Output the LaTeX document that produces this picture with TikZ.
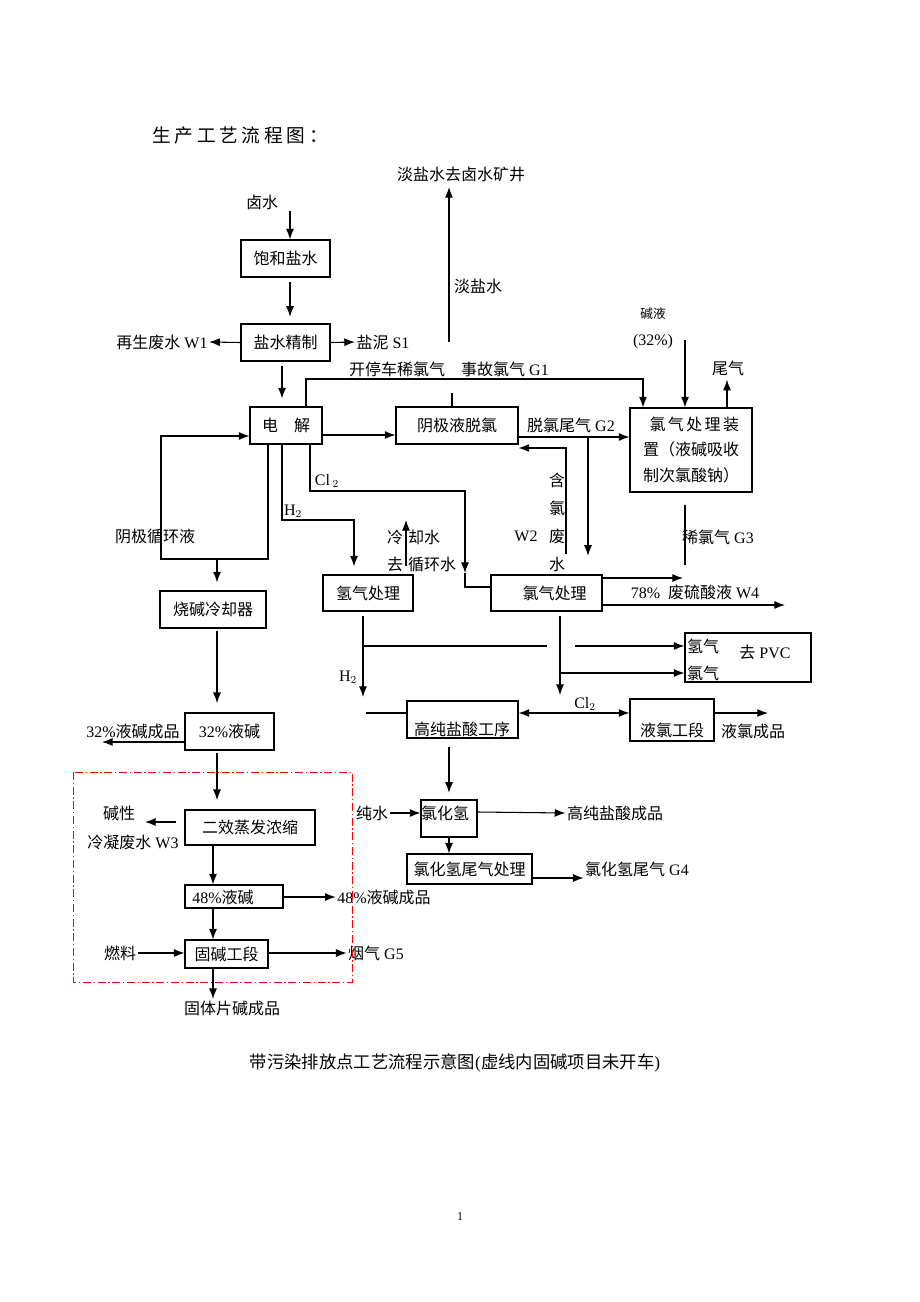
\documentclass[tikz,border=0pt]{standalone}
\usepackage{fontspec}
\setmainfont{Liberation Serif}
\newfontfamily\cjkfont{Noto Sans CJK SC}
\newfontfamily\cjkwide[LetterSpace=20]{Noto Sans CJK SC}
\newcommand{\zh}[1]{{\cjkfont #1}}
\usepackage{tikz}
\usetikzlibrary{positioning,calc,arrows.meta}

\tikzset{
  box/.style 2 args={draw, line width=0.8pt, inner sep=0pt,
    minimum width=#1*0.75pt, minimum height=#2*0.75pt},
  lbl/.style={inner sep=1pt},
  arr/.style={line width=0.8pt, -{Latex[length=8pt,width=6pt]}},
  ln/.style={line width=0.8pt},
  small/.style={font=\fontsize{9.5}{11}\selectfont},
}

\begin{document}
\begin{tikzpicture}[x=0.75pt,y=-0.75pt,font=\fontsize{12}{14}\selectfont]
\useasboundingbox (0,0) rectangle (920,1302);

\node[lbl] (title) at (240,135) {\fontsize{14}{16}\selectfont\cjkwide 生产工艺流程图：};

% brine and caustic column
\node[lbl] (lushui) at (262,202) {\zh{卤水}};
\node[box={89}{37}] (bhys) at (285.5,258.5) {\zh{饱和盐水}};
\node[box={89}{37}] (yszz) at (285.5,342.5) {\zh{盐水精制}};
\node[lbl] (w1) at (162,342) {\zh{再生废水} W1};
\node[lbl] (s1) at (383,342) {\zh{盐泥} S1};
\node[box={72}{37}] (dj) at (286,425.5) {\zh{电\quad 解}};
\node[lbl] (yjxhy) at (155,536) {\zh{阴极循环液}};
\node[box={106}{37}] (sjlq) at (213,609.5) {\zh{烧碱冷却器}};
\node[box={89}{37}] (yj32) at (229.5,731.5) {32\%\zh{液碱}};
\node[lbl] (yj32cp) at (133,731) {32\%\zh{液碱成品}};
\node[box={130}{35}] (exzf) at (250,827.5) {\zh{二效蒸发浓缩}};
\node[lbl] (jx) at (119,813) {\zh{碱性}};
\node[lbl] (w3) at (133,842) {\zh{冷凝废水} W3};
\node[box={98}{23}] (yj48) at (234,896.5) {};
\node[lbl] (yj48t) at (223,897) {48\%\zh{液碱}};
\node[lbl] (yj48cp) at (384,897) {48\%\zh{液碱成品}};
\node[box={83}{28}] (gjgd) at (226.5,954) {\zh{固碱工段}};
\node[lbl] (rl) at (120,953) {\zh{燃料}};
\node[lbl] (g5) at (376,953) {\zh{烟气} G5};
\node[lbl] (gtpj) at (232,1008) {\zh{固体片碱成品}};

% chlorine side
\node[lbl] (dsk) at (461,174) {\zh{淡盐水去卤水矿井}};
\node[lbl] (ds) at (478,286) {\zh{淡盐水}};
\node[lbl] (g1) at (449,369) {\zh{开停车稀氯气\quad 事故氯气} G1};
\node[box={122}{37}] (yjtl) at (457,425.5) {\zh{阴极液脱氯}};
\node[lbl] (g2) at (571,425) {\zh{脱氯尾气} G2};
\node[lbl, align=center, font=\fontsize{12}{21}\selectfont] (w2zh) at (557,522) {\zh{含}\\\zh{氯}\\\zh{废}\\\zh{水}};
\node[lbl] (w2) at (526,536) {W2};
\node[box={122}{84}, align=left, font=\fontsize{12}{19}\selectfont] (clcl) at (691,450)
  {\hspace*{5pt}\makebox[67pt]{\zh{氯}\hfill\zh{气}\hfill\zh{处}\hfill\zh{理}\hfill\zh{装}}\\\zh{置（液碱吸收}\\\zh{制次氯酸钠）}};
\node[lbl, small] (jyl) at (653,314) {\zh{碱液}};
\node[lbl] (jyl32) at (653,342) {(32\%)};
\node[lbl] (wq) at (728,368) {\zh{尾气}};
\node[lbl] (g3) at (718,537) {\zh{稀氯气} G3};
\node[lbl] (h2a) at (293,511) {H$_2$};
\node[lbl] (cl2a) at (327,481) {Cl\,$_2$};
\node[lbl] (lqs1) at (395,537) {\zh{冷}};
\node[lbl] (lqs2) at (424,537) {\zh{却水}};
\node[lbl] (lqs3) at (395,564) {\zh{去}};
\node[lbl] (lqs4) at (432,564) {\zh{循环水}};
\node[box={90}{36}] (qqcl) at (368,593) {\zh{氢气处理}};
\node[box={111}{36}] (lqcl) at (546.5,593) {\hspace*{12pt}\zh{氯气处理}};
\node[lbl] (w4) at (695,592) {78\%\ \ \zh{废硫酸液} W4};
\node[lbl] (h2b) at (348,677) {H$_2$};
\node[box={126}{49}] (pvc) at (748,657.5) {};
\node[lbl] (pvch) at (703,646) {\zh{氢气}};
\node[lbl] (pvcc) at (703,673) {\zh{氯气}};
\node[lbl] (pvct) at (765,652) {\zh{去} PVC};
\node[lbl] (cl2b) at (585,704) {Cl$_2$};
\node[box={111}{37}] (gcys) at (462.5,719.5) {};
\node[lbl] (gcyst) at (462,729) {\zh{高纯盐酸工序}};
\node[box={84}{42}] (ylgd) at (672,720) {};
\node[lbl] (ylgdt) at (672,730) {\zh{液氯工段}};
\node[lbl] (ylcp) at (753,731) {\zh{液氯成品}};
\node[box={56}{37}] (hcl) at (449,818.5) {};
\node[lbl] (hclt) at (445,813) {\zh{氯化氢}};
\node[lbl] (cs) at (372,813) {\zh{纯水}};
\node[lbl] (gcyscp) at (615,813) {\zh{高纯盐酸成品}};
\node[box={125}{30}] (hclw) at (469.5,869) {\zh{氯化氢尾气处理}};
\node[lbl] (g4) at (637,869) {\zh{氯化氢尾气} G4};

\node[lbl, font=\fontsize{13}{15}\selectfont] (cap) at (455,1063) {\zh{带污染排放点工艺流程示意图}(\zh{虚线内固碱项目未开车})};
\node[lbl, font=\fontsize{9}{10}\selectfont] (pg) at (460,1217) {1};

\coordinate (g1c) at (306,379);
\coordinate (dsc) at (449,342);
\coordinate (g2c) at (588,437);
\coordinate (jyc) at (685,340);
\coordinate (g3c) at (685,565);
\coordinate (yjxc) at (217,559);
\coordinate (w4a) at (683,578);
\coordinate (w4b) at (785,605);
\coordinate (h2d) at (363,697);
\coordinate (cl2d) at (560,695);
\coordinate (cl2s) at (560,713);
\coordinate (yj32o) at (102,742);
\coordinate (w3o) at (145,822);
\coordinate (ylo) at (768,713);

\draw[arr] (lushui.south -| 290,0) -- (bhys.north -| 290,0);
\draw[arr, shorten <=3pt, shorten >=5pt] (bhys.south -| 290,0) -- (yszz.north -| 290,0);
\draw[arr] (yszz.west) -- (w1.east);
\draw[arr] (yszz.east) -- (s1.west);
\draw[arr, shorten <=3pt, shorten >=6pt] (yszz.south -| 282,0) -- (dj.north -| 282,0);
\draw[arr] (dj.north -| g1c) -- (g1c) -| (clcl.north -| 643,0);
\draw[ln] (yjtl.north -| 452,0) -- ++(0,-13);
\draw[arr, shorten >=3pt] (dsc) -- (dsk.south -| dsc);
\draw[arr] (dj.east |- 0,435) -- (yjtl.west |- 0,435);
\draw[arr] (yjtl.east |- 0,437) -- (clcl.west |- 0,437);
\draw[arr, shorten >=14pt] (g2c) -- (lqcl.north -| g2c);
\draw[arr, shorten <=15pt] (lqcl.north -| 566,0) |- (yjtl.east |- 0,448);
\draw[arr] (jyc) -- (clcl.north -| jyc);
\draw[arr, shorten >=2pt] (clcl.north -| 727,0) -- (wq.south -| 727,0);
\draw[ln, shorten <=9pt] (clcl.south -| g3c) -- (g3c);

\draw[arr] (dj.south -| 268,0) -- (268,559) -| (161,436) -- (dj.west |- 0,436);
\draw[arr, shorten >=6pt] (yjxc) -- (sjlq.north -| yjxc);
\draw[arr, shorten >=6pt] (dj.south -| 282,0) -- (282,520) -| (qqcl.north -| 354,0);
\draw[arr] (dj.south -| 310,0) |- (465,491) -- (465,573);
\draw[ln] (465,573) |- (lqcl.west |- 0,587);
\draw[arr, shorten <=6pt] (qqcl.north -| 406,0) -- (406,520);
\draw[arr] (lqcl.east |- w4a) -- (w4a);
\draw[arr] (lqcl.east |- w4b) -- (w4b);

\draw[arr, shorten <=3pt] (qqcl.south -| h2d) -- (h2d);
\draw[ln] (363,646) -- (547,646);
\draw[arr] (575,646) -- (pvc.west |- 0,646);
\draw[arr, shorten <=3pt] (lqcl.south -| cl2d) -- (cl2d);
\draw[arr] (560,673) -- (pvc.west |- 0,673);
\draw[arr] (cl2s) -- (gcys.east |- cl2s);
\draw[arr] (cl2s) -- (ylgd.west |- cl2s);
\draw[ln] (366,713) -- (gcys.west |- 0,713);
\draw[arr] (ylgd.east |- ylo) -- (ylo);
\draw[arr, shorten <=6pt, shorten >=5pt] (gcys.south -| 449,0) -- (hcl.north -| 449,0);
\draw[arr] (cs.east) -- (hcl.west |- cs.east);
\draw[arr] (hcl.east |- 0,812) -- (gcyscp.west);
\draw[arr] (hcl.south -| 449,0) -- (hclw.north -| 449,0);
\draw[arr] (hclw.east |- 0,878) -- (g4.west |- 0,878);

\draw[arr, shorten <=2pt, shorten >=7pt] (sjlq.south -| 217,0) -- (yj32.north -| 217,0);
\draw[arr] (yj32.west |- yj32o) -- (yj32o);
\draw[arr, shorten <=2pt, shorten >=7pt] (yj32.south -| 217,0) -- (exzf.north -| 217,0);
\draw[arr, shorten <=6pt] (exzf.west |- w3o) -- (w3o);
\draw[arr] (exzf.south -| 213,0) -- (yj48.north -| 213,0);
\draw[arr] (yj48.east |- 0,897) -- (yj48cp.west);
\draw[arr] (yj48.south -| 213,0) -- (gjgd.north -| 213,0);
\draw[arr] (rl.east) -- (gjgd.west |- rl.east);
\draw[arr] (gjgd.east |- 0,953) -- (g5.west);
\draw[arr] (gjgd.south -| 213,0) -- (gtpj.north -| 213,0);

\draw[red, line width=0.7pt, dash pattern=on 6pt off 2pt on 1pt off 2pt] (73,772) rectangle (352,982);
\end{tikzpicture}
\end{document}
